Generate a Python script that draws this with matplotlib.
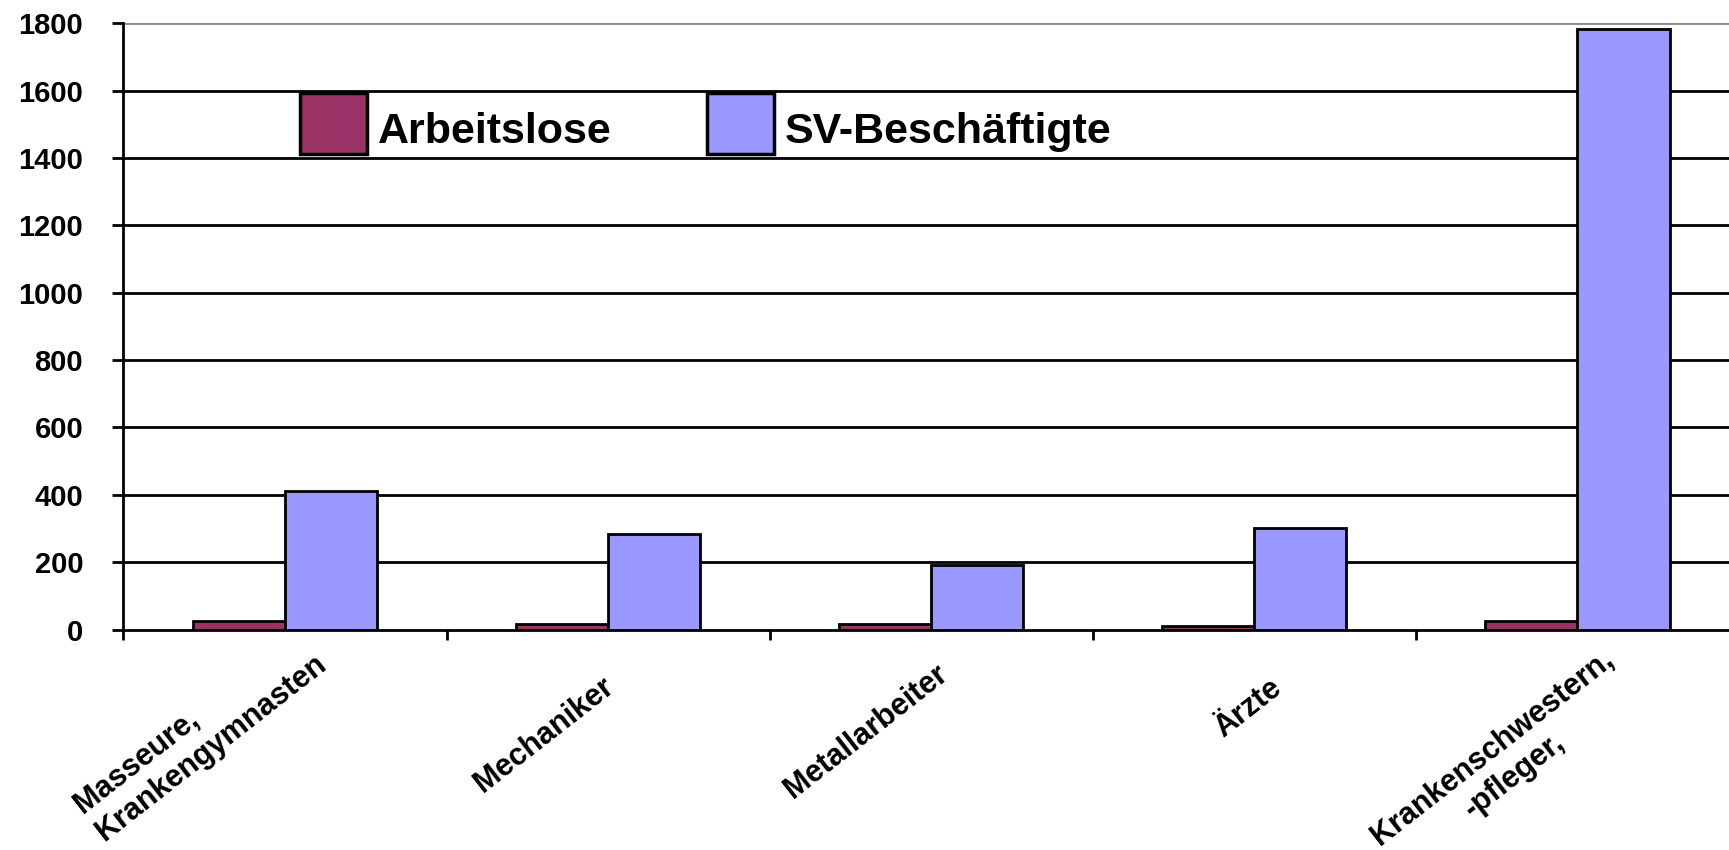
import numpy as np
import matplotlib.pyplot as plt
from matplotlib.ticker import FixedLocator
from matplotlib.transforms import ScaledTranslation

plt.rcParams['font.family'] = ['Liberation Sans', 'DejaVu Sans']
plt.rcParams['font.weight'] = 'bold'

berufe = ['Masseure,\nKrankengymnasten', 'Mechaniker', 'Metallarbeiter', 'Ärzte',
          'Krankenschwestern,\n-pfleger,']
arbeitslose = [25, 17, 17, 10, 25]
beschaeftigte = [412, 285, 193, 301, 1783]
yticks = [0, 200, 400, 600, 800, 1000, 1200, 1400, 1600, 1800]

# label placement tweaks (pixels right / down from category centre at the axis)
lbl_shift = [(7, -8), (-7, 42), (4, 29), (15, 43), (24, 15)]
lbl_align = ['left', 'center', 'center', 'center', 'center']

fig = plt.figure(figsize=(17.29, 8.5), dpi=100)
ax = fig.add_axes([0.0714, 0.2593, 0.9344, 0.7134])

x = np.arange(len(berufe))
w = 0.285
ax.bar(x - w/2, arbeitslose, w, color='#993366', edgecolor='black', lw=2, zorder=3,
       label='Arbeitslose')
ax.bar(x + w/2, beschaeftigte, w, color='#9999FF', edgecolor='black', lw=2, zorder=3,
       label='SV-Beschäftigte')

ax.set_xlim(-0.5, len(berufe) - 0.5)
ax.set_ylim(0, 1800)
ax.set_yticks(yticks)
for t in yticks[1:-1]:
    ax.axhline(t, color='black', lw=2, zorder=1)
ax.axhline(1800, color='#888888', lw=2, zorder=1)

for s in ['top', 'right']:
    ax.spines[s].set_visible(False)
ax.spines['left'].set_linewidth(2)
ax.spines['bottom'].set_linewidth(2)

ax.tick_params(axis='y', length=8, width=2, labelsize=21, pad=21)
ax.xaxis.set_major_locator(FixedLocator(np.arange(len(berufe) + 1) - 0.5))
ax.tick_params(axis='x', which='major', length=7, width=2, labelbottom=False)
ax.tick_params(axis='x', which='minor', length=0, labelsize=22, pad=0)
ax.set_xticks(x, minor=True)
labels = ax.set_xticklabels(berufe, minor=True, rotation=38, ha='right', va='top',
                            rotation_mode='anchor')
for lab, (dx, dy), al in zip(labels, lbl_shift, lbl_align):
    lab.set_multialignment(al)
    lab.set_transform(lab.get_transform() +
                      ScaledTranslation(dx / 100, -dy / 100, fig.dpi_scale_trans))

leg = ax.legend(loc='upper left', bbox_to_anchor=(300/1729, 1 - 93/850),
                bbox_transform=fig.transFigure, ncol=2, frameon=False,
                prop={'weight': 'bold', 'size': 31},
                handlelength=1.56, handleheight=1.8, handletextpad=0.26,
                columnspacing=2.2, borderpad=0, borderaxespad=0)
for h in leg.legend_handles:
    h.set_linewidth(2.5)
for t in leg.get_texts():
    t.set_transform(t.get_transform() + ScaledTranslation(0, -0.06, fig.dpi_scale_trans))

fig.savefig('out.png', dpi=100)
